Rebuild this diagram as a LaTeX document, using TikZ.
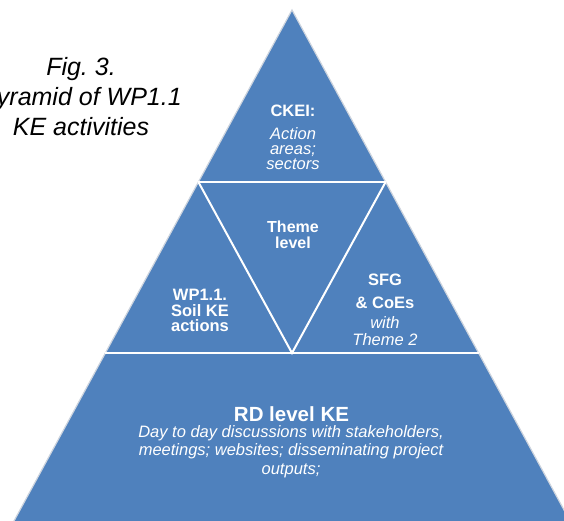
\documentclass[tikz,border=0pt]{standalone}
\usepackage{fontspec}
\setmainfont{Liberation Sans}
\definecolor{pyrblue}{RGB}{79,129,189}
\definecolor{rimgray}{RGB}{205,212,222}
\frenchspacing
\begin{document}
\begin{tikzpicture}[x=1pt,y=-1pt,
  tb/.style={text=white,font=\bfseries\fontsize{16.5}{16.5}\selectfont,inner sep=0pt,anchor=base},
  ti/.style={text=white,font=\itshape\fontsize{16.5}{16.5}\selectfont,inner sep=0pt,anchor=base},
  figcaption/.style={text=black,font=\itshape\fontsize{25}{25}\selectfont,inner sep=0pt,anchor=base},
  sepline/.style={draw=white,line width=2pt}]
\useasboundingbox (0,0) rectangle (564,520);
\clip (0,0) rectangle (564,520);
% geometry
\coordinate (apex) at (292,10);
\coordinate (bl) at (9.1,530);
\coordinate (br) at (574.9,530);
\coordinate (l1a) at (198.4,182);
\coordinate (l1b) at (385.6,182);
\coordinate (l2a) at (105.4,353);
\coordinate (l2b) at (478.6,353);
\coordinate (v) at (292,353);
% pyramid
\fill[pyrblue,draw=rimgray,line width=1.2pt] (apex) -- (bl) -- (br) -- cycle;
\draw[sepline] (l1a) -- (l1b);
\draw[sepline] (l2a) -- (l2b);
\draw[sepline] (l1a) -- (v) -- (l1b);
% caption
\node[figcaption] (cap1) at (81,75) {Fig. 3.};
\node[figcaption] (cap2) at (81,105.5) {Pyramid of WP1.1};
\node[figcaption] (cap3) at (81,135) {KE activities};
% top
\node[tb] (ckei) at (293,116.7) {CKEI:};
\node[ti] (act1) at (293,139) {Action};
\node[ti] (act2) at (293,154.5) {areas;};
\node[ti] (act3) at (293,169.5) {sectors};
% theme
\node[tb,font=\bfseries\fontsize{16}{16}\selectfont] (th1) at (293,232) {Theme};
\node[tb,font=\bfseries\fontsize{16}{16}\selectfont] (th2) at (293,248) {level};
% left
\node[tb] (wp1) at (200,300.7) {WP1.1.};
\node[tb] (wp2) at (200,316) {Soil KE};
\node[tb] (wp3) at (200,331) {actions};
% right
\node[tb] (sfg1) at (385,285) {SFG};
\node[tb] (sfg2) at (385,308) {\& CoEs};
\node[ti] (sfg3) at (385,328) {with};
\node[ti] (sfg4) at (385,345) {Theme 2};
% bottom
\node[tb,font=\bfseries\fontsize{20.5}{20.5}\selectfont] (rd) at (291.5,421) {RD level KE};
\node[ti] (rd1) at (291,437) {Day to day discussions with stakeholders,};
\node[ti] (rd2) at (291,455.5) {meetings; websites; disseminating project};
\node[ti] (rd3) at (291,474) {outputs;};
\end{tikzpicture}
\end{document}
